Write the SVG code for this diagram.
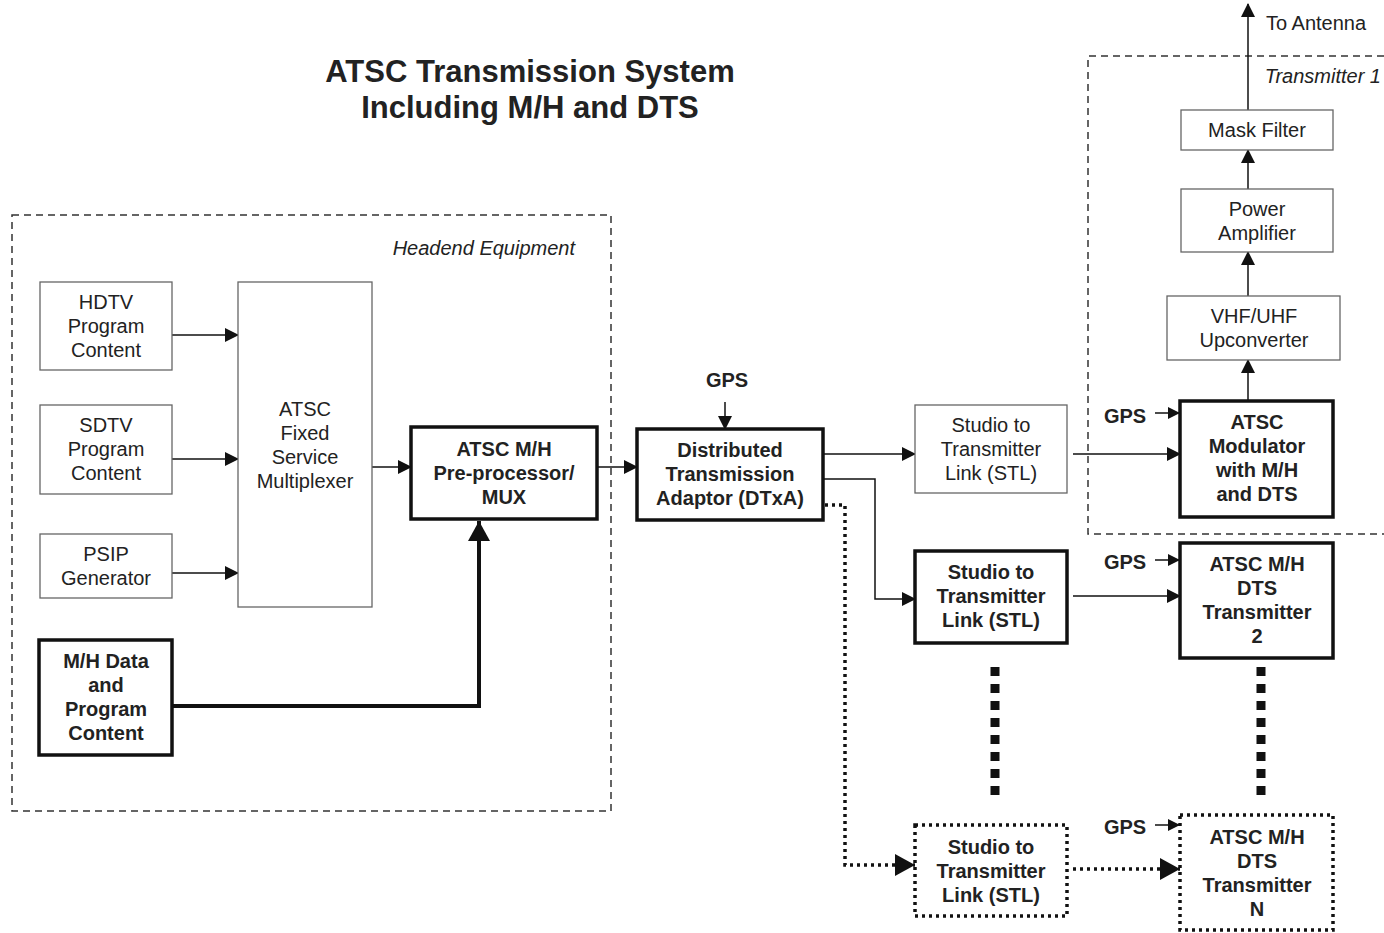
<svg xmlns="http://www.w3.org/2000/svg" width="1384" height="933" viewBox="0 0 1384 933">
<defs>
<marker id="ah" markerWidth="14" markerHeight="14" refX="13" refY="7" orient="auto" markerUnits="userSpaceOnUse"><path d="M0,0 L14,7 L0,14 Z" fill="#111"/></marker>
<marker id="ahb" markerWidth="20" markerHeight="22" refX="20" refY="11" orient="auto" markerUnits="userSpaceOnUse"><path d="M0,0 L20,11 L0,22 Z" fill="#111"/></marker>
<marker id="ahs" markerWidth="12" markerHeight="12" refX="12" refY="6" orient="auto" markerUnits="userSpaceOnUse"><path d="M0,0 L12,6 L0,12 Z" fill="#111"/></marker>
</defs>
<style>
text{font-family:"Liberation Sans",Arial,sans-serif;font-size:20px;fill:#222;text-anchor:middle}
.b{font-weight:bold}
.i{font-style:italic;text-anchor:end;font-size:20px}
.title{font-weight:bold;font-size:31px}
.thin{fill:#fff;stroke:#666;stroke-width:1.3}
.thick{fill:#fff;stroke:#111;stroke-width:3.5}
.dot{fill:#fff;stroke:#111;stroke-width:3.5;stroke-dasharray:3 4}
.grp{fill:none;stroke:#333;stroke-width:1.5;stroke-dasharray:7 5}
.ln{fill:none;stroke:#111;stroke-width:1.5}
.lnb{fill:none;stroke:#111;stroke-width:4}
.lnd{fill:none;stroke:#111;stroke-width:3.5;stroke-dasharray:3 4}
.sq{fill:none;stroke:#111;stroke-width:9;stroke-dasharray:9 8}
</style>
<rect width="1384" height="933" fill="#fff"/>
<g id="title">
<text class="title" x="530" y="82">ATSC Transmission System</text>
<text class="title" x="530" y="118">Including M/H and DTS</text>
</g>
<g id="headend">
<rect class="grp" x="12" y="215" width="599" height="596"/>
<text class="i" x="575" y="255">Headend Equipment</text>
</g>
<g id="transmitter1-group">
<path class="grp" d="M1384,56 H1088 V534 H1384"/>
<text class="i" x="1381" y="83">Transmitter 1</text>
</g>
<g id="connectors">
<line class="ln" x1="172" y1="335" x2="238" y2="335" marker-end="url(#ah)"/>
<line class="ln" x1="172" y1="459" x2="238" y2="459" marker-end="url(#ah)"/>
<line class="ln" x1="172" y1="573" x2="238" y2="573" marker-end="url(#ah)"/>
<line class="ln" x1="372" y1="467" x2="411" y2="467" marker-end="url(#ah)"/>
<path class="lnb" d="M172,706 H479 V521" marker-end="url(#ahb)"/>
<line class="ln" x1="597" y1="467" x2="637" y2="467" marker-end="url(#ah)"/>
<line class="ln" x1="725" y1="402" x2="725" y2="429" marker-end="url(#ah)"/>
<line class="ln" x1="823" y1="454" x2="915" y2="454" marker-end="url(#ah)"/>
<path class="ln" d="M823,479 H875 V599 H915" marker-end="url(#ah)"/>
<path class="lnd" d="M825,505 H845 V865 H915" marker-end="url(#ahb)"/>
<line class="ln" x1="1073" y1="454" x2="1180" y2="454" marker-end="url(#ah)"/>
<line class="ln" x1="1073" y1="596" x2="1180" y2="596" marker-end="url(#ah)"/>
<line class="lnd" x1="1073" y1="869" x2="1180" y2="869" marker-end="url(#ahb)"/>
<line class="ln" x1="1155" y1="413" x2="1180" y2="413" marker-end="url(#ahs)"/>
<line class="ln" x1="1155" y1="560" x2="1180" y2="560" marker-end="url(#ahs)"/>
<line class="ln" x1="1155" y1="825" x2="1180" y2="825" marker-end="url(#ahs)"/>
<line class="ln" x1="1248" y1="401" x2="1248" y2="360" marker-end="url(#ah)"/>
<line class="ln" x1="1248" y1="296" x2="1248" y2="252" marker-end="url(#ah)"/>
<line class="ln" x1="1248" y1="189" x2="1248" y2="150" marker-end="url(#ah)"/>
<line class="ln" x1="1248" y1="110" x2="1248" y2="4" marker-end="url(#ah)"/>
<line class="sq" x1="995" y1="667" x2="995" y2="800"/>
<line class="sq" x1="1261" y1="667" x2="1261" y2="800"/>
<text x="1266" y="30" style="text-anchor:start">To Antenna</text>
<text class="b" x="727" y="387">GPS</text>
<text class="b" x="1125" y="423">GPS</text>
<text class="b" x="1125" y="569">GPS</text>
<text class="b" x="1125" y="834">GPS</text>
</g>
<g id="hdtv">
<rect class="thin" x="40" y="282" width="132" height="88"/>
<text x="106" y="309">HDTV</text><text x="106" y="333">Program</text><text x="106" y="357">Content</text>
</g>
<g id="sdtv">
<rect class="thin" x="40" y="405" width="132" height="89"/>
<text x="106" y="432">SDTV</text><text x="106" y="456">Program</text><text x="106" y="480">Content</text>
</g>
<g id="psip">
<rect class="thin" x="40" y="534" width="132" height="64"/>
<text x="106" y="561">PSIP</text><text x="106" y="585">Generator</text>
</g>
<g id="mux">
<rect class="thin" x="238" y="282" width="134" height="325"/>
<text x="305" y="416">ATSC</text><text x="305" y="440">Fixed</text><text x="305" y="464">Service</text><text x="305" y="488">Multiplexer</text>
</g>
<g id="preproc">
<rect class="thick" x="411" y="427" width="186" height="92"/>
<text class="b" x="504" y="456">ATSC M/H</text><text class="b" x="504" y="480">Pre-processor/</text><text class="b" x="504" y="504">MUX</text>
</g>
<g id="mhdata">
<rect class="thick" x="39" y="640" width="133" height="115"/>
<text class="b" x="106" y="668">M/H Data</text><text class="b" x="106" y="692">and</text><text class="b" x="106" y="716">Program</text><text class="b" x="106" y="740">Content</text>
</g>
<g id="dtxa">
<rect class="thick" x="637" y="429" width="186" height="91"/>
<text class="b" x="730" y="457">Distributed</text><text class="b" x="730" y="481">Transmission</text><text class="b" x="730" y="505">Adaptor (DTxA)</text>
</g>
<g id="stl1">
<rect class="thin" x="915" y="405" width="152" height="88"/>
<text x="991" y="432">Studio to</text><text x="991" y="456">Transmitter</text><text x="991" y="480">Link (STL)</text>
</g>
<g id="stl2">
<rect class="thick" x="915" y="551" width="152" height="92"/>
<text class="b" x="991" y="579">Studio to</text><text class="b" x="991" y="603">Transmitter</text><text class="b" x="991" y="627">Link (STL)</text>
</g>
<g id="stln">
<rect class="dot" x="915" y="825" width="152" height="91"/>
<text class="b" x="991" y="854">Studio to</text><text class="b" x="991" y="878">Transmitter</text><text class="b" x="991" y="902">Link (STL)</text>
</g>
<g id="modulator">
<rect class="thick" x="1180" y="401" width="153" height="116"/>
<text class="b" x="1257" y="429">ATSC</text><text class="b" x="1257" y="453">Modulator</text><text class="b" x="1257" y="477">with M/H</text><text class="b" x="1257" y="501">and DTS</text>
</g>
<g id="tx2">
<rect class="thick" x="1180" y="543" width="153" height="115"/>
<text class="b" x="1257" y="571">ATSC M/H</text><text class="b" x="1257" y="595">DTS</text><text class="b" x="1257" y="619">Transmitter</text><text class="b" x="1257" y="643">2</text>
</g>
<g id="txn">
<rect class="dot" x="1180" y="815" width="153" height="115"/>
<text class="b" x="1257" y="844">ATSC M/H</text><text class="b" x="1257" y="868">DTS</text><text class="b" x="1257" y="892">Transmitter</text><text class="b" x="1257" y="916">N</text>
</g>
<g id="upconv">
<rect class="thin" x="1167" y="296" width="173" height="64"/>
<text x="1254" y="323">VHF/UHF</text><text x="1254" y="347">Upconverter</text>
</g>
<g id="pa">
<rect class="thin" x="1181" y="189" width="152" height="63"/>
<text x="1257" y="216">Power</text><text x="1257" y="240">Amplifier</text>
</g>
<g id="mask">
<rect class="thin" x="1181" y="110" width="152" height="40"/>
<text x="1257" y="137">Mask Filter</text>
</g>
</svg>
